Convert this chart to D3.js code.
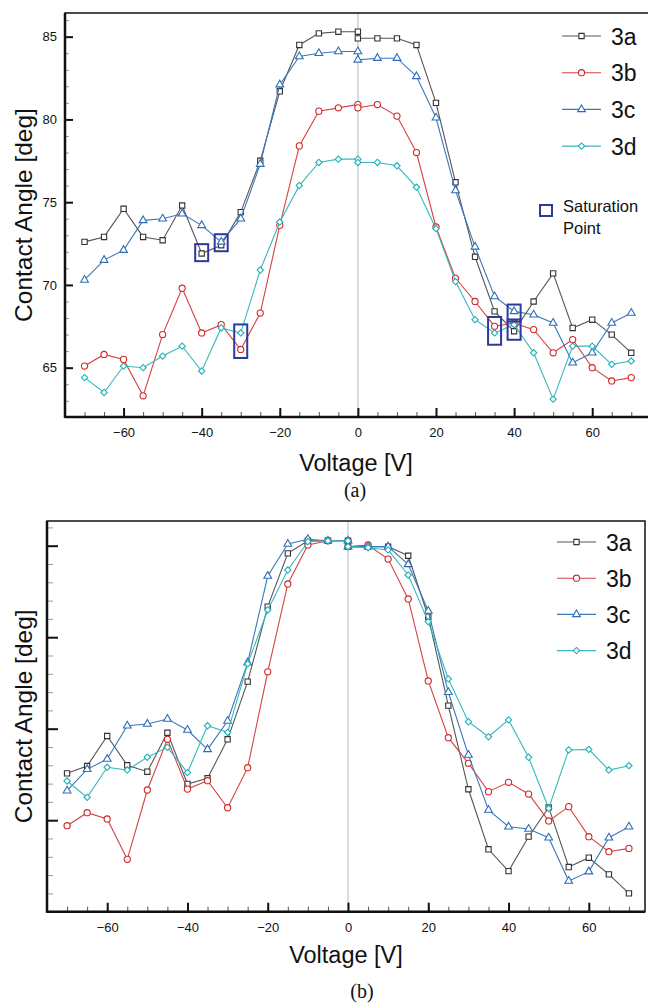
<!DOCTYPE html>
<html>
<head>
<meta charset="utf-8">
<script src="https://cdn.jsdelivr.net/npm/d3@7"></script>
<style>
  body { margin: 0; background: #fff; }
  svg { display: block; font-family: "Liberation Sans", Arial, Helvetica, sans-serif; }
</style>
</head>
<body>
<svg id="chart" width="648" height="1003"></svg>
<script>
// voltage sweep: -70 -> 0, then 0 -> 70 (0 is measured twice)
const voltages = [-70, -65, -60, -55, -50, -45, -40, -35, -30, -25, -20, -15, -10, -5, 0,
  0, 5, 10, 15, 20, 25, 30, 35, 40, 45, 50, 55, 60, 65, 70]
const seriesNames = ['3a', '3b', '3c', '3d']

// (a) contact angle [deg]
const a3a = [72.6, 72.9, 74.6, 72.9, 72.7, 74.8, 71.9, 72.4, 74.4, 77.5, 81.7, 84.5, 85.2, 85.3, 85.3,
  84.9, 84.9, 84.9, 84.5, 81.0, 76.2, 71.7, 68.4, 67.2, 69.0, 70.7, 67.4, 67.9, 67.0, 65.9]
const a3b = [65.1, 65.8, 65.5, 63.3, 67.0, 69.8, 67.1, 67.6, 66.1, 68.3, 73.6, 78.4, 80.5, 80.7, 80.9,
  80.7, 80.9, 80.2, 78.0, 73.5, 70.4, 69.0, 67.5, 67.7, 67.3, 65.9, 66.7, 65.0, 64.2, 64.4]
const a3c = [70.3, 71.5, 72.1, 73.9, 74.0, 74.3, 73.6, 72.6, 74.0, 77.3, 82.1, 83.8, 84.0, 84.1, 84.1,
  83.6, 83.7, 83.7, 82.6, 80.1, 75.7, 72.3, 69.3, 68.4, 68.2, 67.7, 65.3, 65.9, 67.7, 68.3]
const a3d = [64.4, 63.5, 65.1, 65.0, 65.7, 66.3, 64.8, 67.4, 67.1, 70.9, 73.8, 76.0, 77.4, 77.6, 77.6,
  77.4, 77.4, 77.2, 75.9, 73.4, 70.2, 67.9, 67.1, 67.6, 65.9, 63.1, 66.3, 66.3, 65.2, 65.4]
// saturation points: voltage, low and high angle enclosed
const satVolt = [-40, -35, -30, 35, 40, 40]
const satLow = [71.95, 72.55, 66.1, 66.9, 68.3, 67.2]
const satHigh = [71.95, 72.55, 67.1, 67.55, 68.3, 67.4]

// (b) contact angle, tick labels not shown (minor tick units)
const b3a = [7.56, 7.96, 9.60, 8.00, 7.65, 9.78, 6.98, 7.29, 9.42, 12.57, 16.67, 19.58, 20.27, 20.27, 20.27,
  19.95, 19.95, 19.95, 19.45, 16.12, 11.26, 6.69, 3.41, 2.22, 4.10, 5.70, 2.44, 2.95, 2.04, 1.00]
const b3b = [4.70, 5.41, 5.07, 2.86, 6.65, 9.42, 6.70, 7.16, 5.68, 7.87, 13.11, 17.91, 20.04, 20.27, 20.27,
  19.95, 20.04, 19.27, 17.09, 12.61, 9.51, 8.11, 6.56, 7.07, 6.43, 4.96, 5.74, 4.10, 3.28, 3.46]
const b3c = [6.61, 7.78, 8.34, 10.16, 10.26, 10.53, 9.93, 8.87, 10.42, 13.61, 18.34, 20.09, 20.35, 20.27, 20.27,
  19.95, 19.95, 19.95, 18.98, 16.43, 11.99, 8.56, 5.56, 4.64, 4.52, 4.04, 1.68, 2.19, 4.04, 4.64]
const b3d = [7.14, 6.25, 7.89, 7.74, 8.44, 8.98, 7.60, 10.16, 9.80, 13.54, 16.49, 18.67, 20.22, 20.27, 20.27,
  19.95, 19.89, 19.77, 18.40, 15.85, 12.72, 10.38, 9.56, 10.48, 8.44, 5.65, 8.84, 8.87, 7.74, 7.98]

const xMajor = [-60, -40, -20, 0, 20, 40, 60]
const xMinor = d3.range(-70, 75, 5)
const aMajor = [65, 70, 75, 80, 85]
const aMinor = d3.range(63, 87, 1)
const bMajor = [5, 10, 15, 20]
const bMinor = d3.range(1, 22, 1)

const colors = ['#333333', '#d02a2a', '#2f6db5', '#1fb0b6']
const lineColors = ['#555555', '#d84040', '#3a78bd', '#35b9be']
const symbols = [d3.symbolSquare, d3.symbolCircle, d3.symbolTriangle, d3.symbolSquare]
const symSizes = [28, 30, 26, 20]
const symRotate = [0, 0, 0, 45]

const svg = d3.select('#chart')

function drawPanel (cfg) {
  const x = d3.scaleLinear().domain([-75, cfg.xMax]).range([cfg.left, cfg.right])
  const y = d3.scaleLinear().domain(cfg.yDomain).range([cfg.bottom, cfg.top])
  const g = svg.append('g')

  // zero line
  g.append('line')
    .attr('x1', x(0)).attr('x2', x(0))
    .attr('y1', cfg.top).attr('y2', cfg.bottom)
    .attr('stroke', '#c9d2da').attr('stroke-width', 1.5)

  // minor ticks
  g.append('g')
    .attr('transform', `translate(0,${cfg.bottom})`)
    .call(d3.axisBottom(x).tickValues(xMinor).tickSize(-5).tickFormat(''))
    .call(a => a.select('.domain').remove())
    .selectAll('line').attr('stroke', '#555')
  g.append('g')
    .attr('transform', `translate(${cfg.left},0)`)
    .call(d3.axisLeft(y).tickValues(cfg.yMinor).tickSize(-cfg.yMinorLen).tickFormat(''))
    .call(a => a.select('.domain').remove())
    .selectAll('line').attr('stroke', '#999')

  // major ticks
  const xa = g.append('g')
    .attr('transform', `translate(0,${cfg.bottom})`)
    .call(d3.axisBottom(x).tickValues(xMajor).tickSize(-9).tickPadding(11).tickFormat(d3.format('d')))
  xa.select('.domain').remove()
  xa.selectAll('line').attr('stroke', '#111').attr('stroke-width', 2)
  xa.selectAll('text').attr('font-size', 13).attr('fill', '#111').attr('font-family', 'Liberation Sans, Arial, sans-serif')

  const ya = g.append('g')
    .attr('transform', `translate(${cfg.left},0)`)
    .call(d3.axisLeft(y).tickValues(cfg.yMajor).tickSize(-cfg.yMajorLen).tickPadding(8)
      .tickFormat(cfg.showY ? d3.format('d') : ''))
  ya.select('.domain').remove()
  ya.selectAll('line').attr('stroke', '#111').attr('stroke-width', 2)
  ya.selectAll('text').attr('font-size', 13).attr('fill', '#111').attr('font-family', 'Liberation Sans, Arial, sans-serif')

  // frame
  g.append('rect')
    .attr('x', cfg.left).attr('y', cfg.top)
    .attr('width', cfg.right - cfg.left).attr('height', cfg.bottom - cfg.top)
    .attr('fill', 'none').attr('stroke', '#111').attr('stroke-width', 1.5)
  g.append('line')
    .attr('x1', cfg.left).attr('x2', cfg.left).attr('y1', cfg.top).attr('y2', cfg.bottom + 1)
    .attr('stroke', '#111').attr('stroke-width', 2.5)
  g.append('line')
    .attr('x1', cfg.left).attr('x2', cfg.right).attr('y1', cfg.bottom).attr('y2', cfg.bottom)
    .attr('stroke', '#111').attr('stroke-width', 2.5)

  // series
  const line = d3.line().x((d, i) => x(voltages[i])).y(d => y(d))
  cfg.series.forEach((vals, k) => {
    g.append('path')
      .datum(vals)
      .attr('d', line)
      .attr('fill', 'none')
      .attr('stroke', lineColors[k])
      .attr('stroke-width', 1.1)
    g.selectAll(null)
      .data(vals)
      .enter()
      .append('path')
      .attr('d', d3.symbol().type(symbols[k]).size(symSizes[k]))
      .attr('transform', (d, i) => `translate(${x(voltages[i])},${y(d)}) rotate(${symRotate[k]})`)
      .attr('fill', '#fff')
      .attr('stroke', colors[k])
      .attr('stroke-width', 1.1)
  })

  // legend
  const lg = g.append('g')
  seriesNames.forEach((name, k) => {
    const ly = cfg.legendY + k * cfg.legendStep
    lg.append('line')
      .attr('x1', cfg.legendX).attr('x2', cfg.legendX + 39)
      .attr('y1', ly).attr('y2', ly)
      .attr('stroke', lineColors[k]).attr('stroke-width', 1.1)
    lg.append('path')
      .attr('d', d3.symbol().type(symbols[k]).size(symSizes[k]))
      .attr('transform', `translate(${cfg.legendX + 19.5},${ly}) rotate(${symRotate[k]})`)
      .attr('fill', '#fff').attr('stroke', colors[k]).attr('stroke-width', 1.1)
    lg.append('text')
      .attr('x', cfg.legendX + 49).attr('y', ly + 8.5)
      .attr('font-size', 23).attr('fill', '#111')
      .text(name)
  })

  // axis titles
  g.append('text')
    .attr('transform', `translate(${cfg.yTitleX},${(cfg.top + cfg.bottom) / 2}) rotate(-90)`)
    .attr('text-anchor', 'middle')
    .attr('font-size', 24.5).attr('fill', '#111')
    .text('Contact Angle [deg]')
  g.append('text')
    .attr('x', cfg.xTitleX).attr('y', cfg.xTitleY)
    .attr('text-anchor', 'middle')
    .attr('font-size', 23.5).attr('fill', '#111')
    .text('Voltage [V]')
  g.append('text')
    .attr('x', cfg.capX).attr('y', cfg.capY)
    .attr('text-anchor', 'middle')
    .attr('font-family', 'Liberation Serif, Times New Roman, serif')
    .attr('font-size', 20).attr('fill', '#111')
    .text(cfg.caption)

  return { x, y, g }
}

// panel (a)
const pa = drawPanel({
  left: 65, right: 650, top: 13, bottom: 417, xMax: 74.8,
  yDomain: [62.02, 86.43], yMajor: aMajor, yMinor: aMinor, yMajorLen: 8, yMinorLen: 4, showY: true,
  series: [a3a, a3b, a3c, a3d],
  legendX: 562, legendY: 36, legendStep: 36.7,
  yTitleX: 32, xTitleX: 356, xTitleY: 471, capX: 355, capY: 497, caption: '(a)'
})

// saturation boxes
pa.g.selectAll(null)
  .data(satVolt)
  .enter()
  .append('rect')
  .attr('x', d => pa.x(d) - 6.5)
  .attr('y', (d, i) => pa.y(satHigh[i]) - 8.5)
  .attr('width', 13)
  .attr('height', (d, i) => pa.y(satLow[i]) - pa.y(satHigh[i]) + 17)
  .attr('fill', 'none')
  .attr('stroke', '#2b3a9e')
  .attr('stroke-width', 2)

pa.g.append('rect')
  .attr('x', 540).attr('y', 205).attr('width', 12).attr('height', 11)
  .attr('fill', 'none').attr('stroke', '#2b3a9e').attr('stroke-width', 2)
pa.g.append('text')
  .attr('x', 563).attr('y', 212).attr('font-size', 16.5).attr('fill', '#111').text('Saturation')
pa.g.append('text')
  .attr('x', 563).attr('y', 234).attr('font-size', 16.5).attr('fill', '#111').text('Point')

// panel (b)
drawPanel({
  left: 47, right: 645, top: 521, bottom: 911.7, xMax: 74,
  yDomain: [0, 21.35], yMajor: bMajor, yMinor: bMinor, yMajorLen: 11, yMinorLen: 6, showY: false,
  series: [b3a, b3b, b3c, b3d],
  legendX: 557, legendY: 542, legendStep: 36.2,
  yTitleX: 32, xTitleX: 346, xTitleY: 963, capX: 362, capY: 998, caption: '(b)'
})
</script>
</body>
</html>
